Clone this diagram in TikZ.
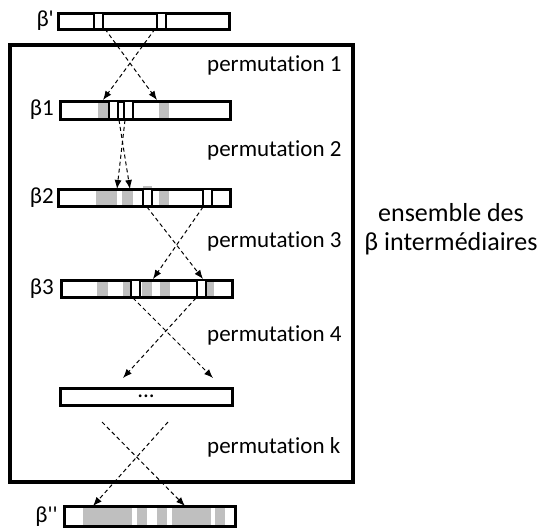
\documentclass[tikz,border=0pt]{standalone}
\usepackage{fontspec}
\setmainfont{Carlito}[Ligatures=TeXOff, RawFeature={-liga}]
\usetikzlibrary{positioning,arrows,arrows.meta,calc}

\begin{document}
\begin{tikzpicture}[x=1pt,y=-1pt,
  bar/.style={draw=black, line width=3pt, fill=white},
  slot/.style={draw=black, line width=2.6pt, fill=white},
  shade/.style={fill=black!25},
  perm/.style={-{Latex[length=9pt,width=7pt]}, dashed, dash pattern=on 4pt off 3pt, line width=1pt},
  lbl/.style={font=\fontsize{23}{27}\selectfont, inner sep=0pt}]
\useasboundingbox (0,0) rectangle (541,528);
\draw[line width=3.4pt] (10,45) rectangle (353,482);

\draw[bar] (58,13) rectangle (229,29);
\draw[slot] (94,13) rectangle (103,29);
\draw[slot] (157,13) rectangle (166,29);

\draw[bar] (60,101) rectangle (230,119);
\fill[shade] (98,102.5) rectangle (108,117.5);
\fill[shade] (159,102.5) rectangle (169,117.5);
\draw[slot] (109,101) rectangle (118,119);
\draw[slot] (124,101) rectangle (133,119);

\draw[bar] (58,189) rectangle (230,206);
\fill[shade] (96,190.5) rectangle (117,204.5);
\fill[shade] (122,190.5) rectangle (133,204.5);
\fill[shade] (143,186) rectangle (152,189.5);
\fill[shade] (159,190.5) rectangle (169,204.5);
\draw[slot] (143,189) rectangle (152,206);
\draw[slot] (203,189) rectangle (212,206);

\draw[bar] (61,280) rectangle (232,297);
\fill[shade] (97,281.5) rectangle (108,295.5);
\fill[shade] (123,281.5) rectangle (131,295.5);
\fill[shade] (142,281.5) rectangle (152,295.5);
\fill[shade] (160,281.5) rectangle (170,295.5);
\fill[shade] (206,281.5) rectangle (214,295.5);
\draw[slot] (131,280) rectangle (140,297);
\draw[slot] (197,280) rectangle (206,297);

\draw[bar] (60,388) rectangle (232,405);
\node[lbl] (dots) at (146,396) {...};

\draw[bar] (64,506) rectangle (235,526);
\fill[shade] (83,507.5) rectangle (132,524.5);
\fill[shade] (137,507.5) rectangle (147,524.5);
\fill[shade] (157,507.5) rectangle (167,524.5);
\fill[shade] (172,507.5) rectangle (211,524.5);
\fill[shade] (215,507.5) rectangle (225,524.5);

\node[lbl, anchor=east] (b0) at (54,21) {β'};
\node[lbl, anchor=east] (b1) at (54,110) {β1};
\node[lbl, anchor=east] (b2) at (54,198) {β2};
\node[lbl, anchor=east] (b3) at (54,289) {β3};
\node[lbl, anchor=east] (bk) at (58,517) {β''};

\node[lbl, anchor=base west] (p1) at (207,71) {permutation 1};
\node[lbl, anchor=base west] (p2) at (207,156) {permutation 2};
\node[lbl, anchor=base west] (p3) at (207,247) {permutation 3};
\node[lbl, anchor=base west] (p4) at (207,341) {permutation 4};
\node[lbl, anchor=base west] (pk) at (207,453) {permutation k};

\node[lbl, font=\fontsize{26}{29}\selectfont, align=center] (ens) at (451,229) {ensemble des\\β intermédiaires};

\coordinate (s0a) at (105,29);
\coordinate (s0b) at (155,29);
\coordinate (e1a) at (157,100);
\coordinate (e1b) at (103,100);
\coordinate (s1a) at (119,120);
\coordinate (s1b) at (125,120);
\coordinate (e2a) at (130,189);
\coordinate (e2b) at (117,189);
\coordinate (s2a) at (147,207);
\coordinate (s2b) at (203,207);
\coordinate (e3a) at (203,279);
\coordinate (e3b) at (153,279);
\coordinate (s3a) at (133,298);
\coordinate (s3b) at (196,298);
\coordinate (e4a) at (213,378);
\coordinate (e4b) at (123,378);
\coordinate (s4a) at (102,422);
\coordinate (s4b) at (168,422);
\coordinate (e5a) at (185,506);
\coordinate (e5b) at (93,506);

\draw[perm] (s0a) -- (e1a);
\draw[perm] (s0b) -- (e1b);
\draw[perm] (s1a) -- (e2a);
\draw[perm] (s1b) -- (e2b);
\draw[perm] (s2a) -- (e3a);
\draw[perm] (s2b) -- (e3b);
\draw[perm] (s3a) -- (e4a);
\draw[perm] (s3b) -- (e4b);
\draw[perm] (s4a) -- (e5a);
\draw[perm] (s4b) -- (e5b);
\end{tikzpicture}
\end{document}
